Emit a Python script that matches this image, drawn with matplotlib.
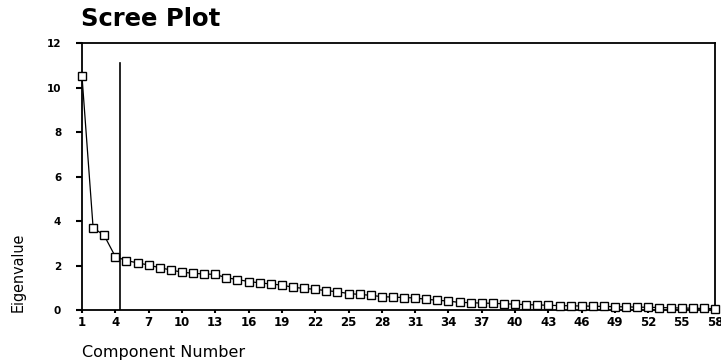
import matplotlib
matplotlib.use("Agg")
import matplotlib.pyplot as plt
import numpy as np

components = list(range(1, 59))
eigenvalues = [
    10.5, 3.7, 3.35, 2.4, 2.22, 2.12, 2.02, 1.9, 1.8, 1.7,
    1.65, 1.62, 1.6, 1.45, 1.37, 1.28, 1.22, 1.17, 1.12, 1.02,
    0.97, 0.93, 0.87, 0.82, 0.74, 0.7, 0.66, 0.6, 0.58, 0.56,
    0.54, 0.48, 0.44, 0.4, 0.34, 0.33, 0.31, 0.3, 0.28, 0.26,
    0.24, 0.23, 0.21, 0.2, 0.19, 0.18, 0.17, 0.16, 0.15, 0.14,
    0.13, 0.12, 0.11, 0.1, 0.09, 0.08, 0.07, 0.06,
]
cutoff_x = 4.4
cutoff_top = 11.1
xticks = list(range(1, 59, 3))
yticks = list(range(0, 13, 2))

fig = plt.figure(figsize=(7.21, 3.62), dpi=100)
ax = fig.add_axes([82/721, 1-310/362, (715-82)/721, (310-43)/362])

ax.plot(components, eigenvalues, color="black", lw=0.9, marker="s",
        markersize=5.2, markerfacecolor="white", markeredgecolor="black",
        markeredgewidth=1.0, clip_on=False, zorder=3)
ax.plot([cutoff_x, cutoff_x], [0, cutoff_top], color="black", lw=1.2, zorder=2)

ax.set_xlim(1, 58)
ax.set_ylim(0, 12)
ax.set_xticks(xticks)
ax.set_yticks(yticks)
for s in ax.spines.values():
    s.set_linewidth(1.3)
    s.set_color("black")
ax.tick_params(axis="y", direction="out", length=4, width=1.5, pad=11, labelsize=7.5)
ax.tick_params(axis="x", direction="out", length=2.5, width=1.5, pad=2, labelsize=8.5)
for lab in ax.get_xticklabels() + ax.get_yticklabels():
    lab.set_fontweight("bold")

fig.text(81/721, 1-19/362, "Scree Plot", fontsize=17.5, fontweight="bold",
         ha="left", va="center")
fig.text(82/721, 1-352/362, "Component Number", fontsize=11.5, ha="left", va="center")
fig.text(18/721, 1-272/362, "Eigenvalue", fontsize=11.5, rotation=90,
         ha="center", va="center", family=["Liberation Sans Narrow", "DejaVu Sans"],
         fontstretch="condensed")

fig.savefig("out.png", dpi=100)
